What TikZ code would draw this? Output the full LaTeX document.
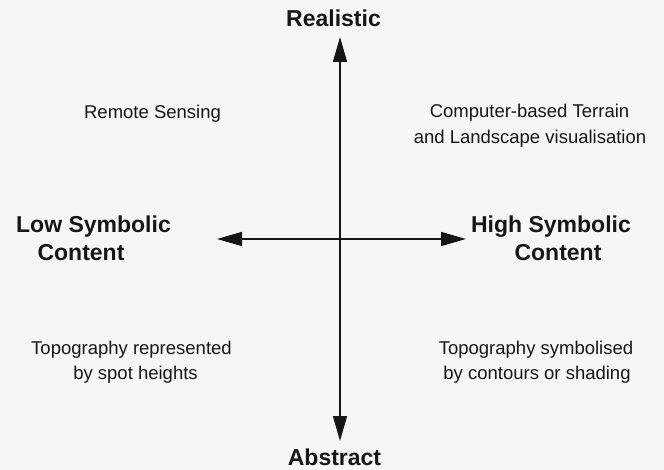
\documentclass[tikz,border=0pt]{standalone}
\usepackage{fontspec}
\setmainfont{Liberation Sans}
\usetikzlibrary{arrows.meta}
\definecolor{ink}{HTML}{161616}
\definecolor{paper}{HTML}{F6F6F6}
\tikzset{
  axisline/.style={line width=1.5pt, draw=ink, {Triangle[length=25pt,width=14pt]}-{Triangle[length=25pt,width=14pt]}},
  plain/.style={inner sep=0pt, anchor=base, text=ink, font=\fontsize{18.5}{22}\selectfont},
  strong/.style={inner sep=0pt, anchor=base, text=ink, font=\fontsize{23}{27}\selectfont\bfseries},
}
\begin{document}
\begin{tikzpicture}[x=1pt,y=-1pt]
\fill[paper] (0,0) rectangle (664,470);
\useasboundingbox (0,0) rectangle (664,470);
\coordinate (top) at (340,37);
\coordinate (bottom) at (340,441);
\coordinate (left) at (217,239);
\coordinate (right) at (466,239);
\draw[axisline] (bottom) -- (top);
\draw[axisline] (left) -- (right);
\node[strong] (real) at (333.5,27) {Realistic};
\node[strong] (abs) at (334.5,465) {Abstract};
\node[strong] (low1) at (93.5,233) {Low Symbolic};
\node[strong] (low2) at (81,261) {Content};
\node[strong] (high1) at (551,233) {High Symbolic};
\node[strong] (high2) at (558,261) {Content};
\node[plain] (rs) at (152.5,119) {Remote Sensing};
\node[plain] (cb1) at (529.5,118) {Computer-based Terrain};
\node[plain] (cb2) at (530,144) {and Landscape visualisation};
\node[plain] (tr1) at (131.5,354) {Topography represented};
\node[plain] (tr2) at (135.5,379) {by spot heights};
\node[plain] (ts1) at (536,354) {Topography symbolised};
\node[plain] (ts2) at (537,379) {by contours or shading};
\end{tikzpicture}
\end{document}
